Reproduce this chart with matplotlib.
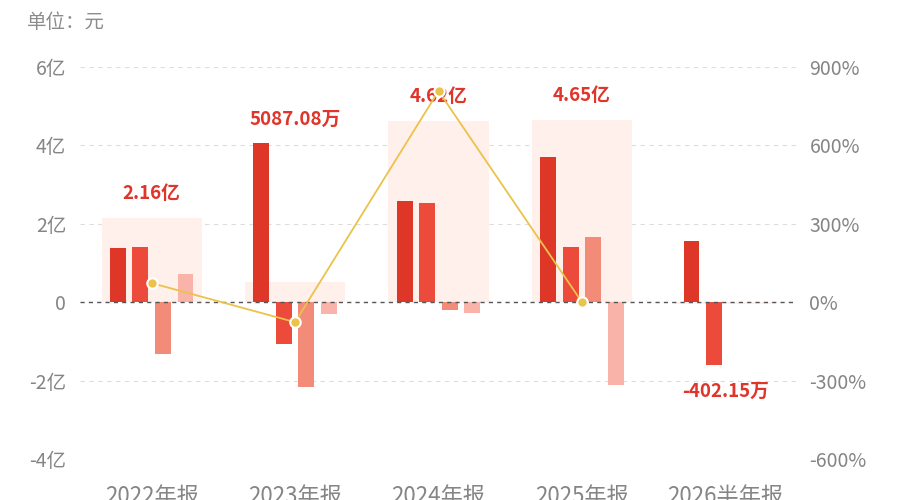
import numpy as np
import matplotlib
matplotlib.use("Agg")
import matplotlib.pyplot as plt
from matplotlib.ticker import FixedLocator

plt.rcParams['font.family'] = ['Noto Sans CJK SC', 'DejaVu Sans']

categories = ['2022年报', '2023年报', '2024年报', '2025年报', '2026半年报']
# values in 亿元
series1 = [1.38, 4.05, 2.57, 3.71, 1.55]
series2 = [1.40, -1.06, 2.52, 1.40, -1.59]
series3 = [-1.33, -2.17, -0.20, 1.66, np.nan]
series4 = [0.71, -0.31, -0.27, -2.12, np.nan]
totals = [2.16, 0.508708, 4.62, 4.65, -0.040215]
total_labels = ['2.16亿', '5087.08万', '4.62亿', '4.65亿', '-402.15万']
growth = [73.0, -76.4, 808.0, 0.65, np.nan]  # %

left_ticks = [-4, -2, 0, 2, 4, 6]
left_ticklabels = ['-4亿', '-2亿', '0', '2亿', '4亿', '6亿']
right_ticks = [-600, -300, 0, 300, 600, 900]
right_ticklabels = ['-600%', '-300%', '0%', '300%', '600%', '900%']

bar_colors = ['#DE3727', '#EC4A3A', '#F38B79', '#F9B3A8']
bg_color = '#FFF0EC'
label_color = '#E0352A'
tick_color = '#858585'
line_color = '#EBC24A'

fig = plt.figure(figsize=(9, 5), dpi=100)
ax = fig.add_axes([80/900, (500-459)/500, (797-80)/900, (459-67)/500])

x = np.arange(len(categories))
ax.set_xlim(-0.5, len(categories) - 0.5)
ax.set_ylim(-4, 6)

# background totals
ax.bar(x, totals, width=0.70, color=bg_color, zorder=1)

pitch = 0.157
bw = 0.111
for i, s in enumerate([series1, series2, series3, series4]):
    ax.bar(x + (i - 1.5) * pitch, s, width=bw, color=bar_colors[i], zorder=3)

# grid
for t in left_ticks:
    if t == 0:
        ax.axhline(0, color='#555555', linestyle=(0, (3, 3)), linewidth=1.0, zorder=4)
    else:
        ax.axhline(t, color='#DDDDDD', linestyle=(0, (4, 4)), linewidth=0.8, zorder=0)

# total labels
for i in range(len(categories)):
    vals = [v for v in [series1[i], series2[i], series3[i], series4[i], totals[i]] if not np.isnan(v)]
    if totals[i] >= 0:
        ref = max(vals)
        ax.annotate(total_labels[i], (x[i], ref), xytext=(0, 17.5), textcoords='offset points',
                    ha='center', va='center', color=label_color, fontsize=13.5, fontweight='bold', zorder=6)
    else:
        ref = min(vals)
        ax.annotate(total_labels[i], (x[i], ref), xytext=(0, -19), textcoords='offset points',
                    ha='center', va='center', color=label_color, fontsize=13.5, fontweight='bold', zorder=6)

ax.yaxis.set_major_locator(FixedLocator(left_ticks))
ax.set_yticklabels(left_ticklabels)
ax.set_xticks(x)
ax.set_xticklabels(categories)
ax.tick_params(axis='y', length=0, pad=10, labelsize=14, labelcolor=tick_color)
ax.tick_params(axis='x', length=0, pad=18.5, labelsize=16, labelcolor=tick_color)
for sp in ax.spines.values():
    sp.set_visible(False)

ax2 = ax.twinx()
ax2.set_ylim(-600, 900)
ax2.plot(x, growth, color=line_color, linewidth=1.3, marker='o', markersize=7.5,
         markerfacecolor=line_color, markeredgecolor='white', markeredgewidth=1.5, zorder=7)
ax2.yaxis.set_major_locator(FixedLocator(right_ticks))
ax2.set_yticklabels(right_ticklabels)
ax2.tick_params(axis='y', length=0, pad=9, labelsize=14, labelcolor=tick_color)
for sp in ax2.spines.values():
    sp.set_visible(False)

fig.text(27/900, 1 - 23/500, '单位：元', ha='left', va='center', fontsize=14, color='#8C8C8C')

fig.savefig('out.png', dpi=100)
